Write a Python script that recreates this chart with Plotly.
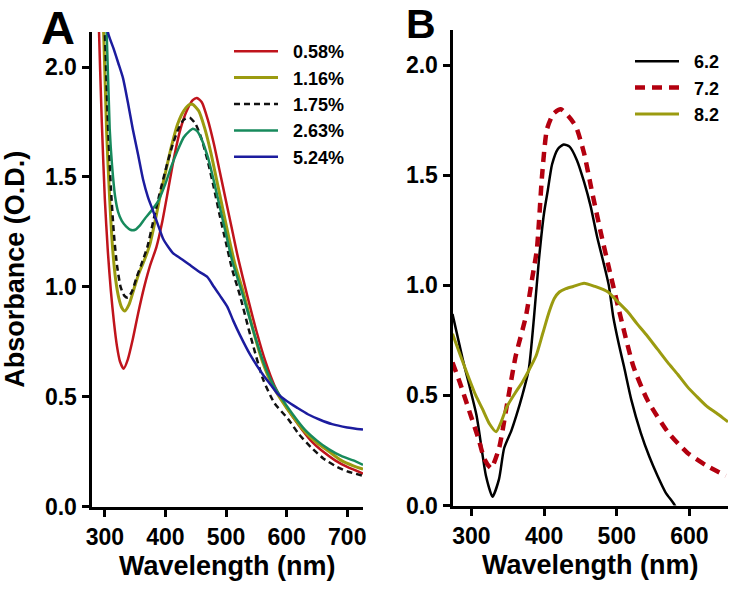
import plotly.graph_objects as go

# ---------------- Panel A data ----------------
wl_058 = [285, 290, 295, 300, 305, 310, 315, 320, 325, 331, 338, 346, 355, 365, 375, 385, 395, 405, 415, 425, 435, 445, 452, 460, 470, 480, 490, 500, 510, 520, 535, 550, 565, 580, 600, 620, 640, 660, 680, 700, 726]
ab_058 = [2.8, 2.2, 1.75, 1.4, 1.16, 0.98, 0.84, 0.73, 0.66, 0.627, 0.67, 0.76, 0.88, 1.0, 1.1, 1.18, 1.3, 1.45, 1.6, 1.72, 1.8, 1.85, 1.86, 1.84, 1.76, 1.65, 1.52, 1.39, 1.26, 1.13, 0.96, 0.8, 0.66, 0.55, 0.45, 0.37, 0.3, 0.25, 0.21, 0.18, 0.15]

wl_116 = [290, 295, 298, 303, 308, 313, 318, 323, 328, 333, 340, 348, 356, 365, 374, 383, 391, 400, 410, 420, 430, 440, 445, 455, 465, 475, 485, 495, 505, 515, 528, 545, 560, 575, 590, 610, 630, 650, 670, 690, 710, 726]
ab_116 = [2.6, 2.3, 2.16, 1.7, 1.4, 1.17, 1.03, 0.95, 0.905, 0.89, 0.92, 0.99, 1.06, 1.12, 1.19, 1.3, 1.41, 1.52, 1.64, 1.74, 1.8, 1.83, 1.83, 1.8, 1.72, 1.61, 1.48, 1.35, 1.22, 1.1, 0.98, 0.8, 0.66, 0.56, 0.49, 0.41, 0.34, 0.29, 0.25, 0.21, 0.185, 0.17]

wl_175 = [292, 300, 305, 310, 315, 320, 326, 332, 338, 345, 352, 360, 370, 380, 390, 400, 410, 420, 430, 440, 450, 460, 470, 480, 490, 500, 510, 523, 540, 561, 580, 602, 620, 640, 660, 680, 700, 726]
ab_175 = [2.6, 2.16, 1.75, 1.45, 1.24, 1.1, 1.0, 0.96, 0.95, 0.98, 1.04, 1.1, 1.18, 1.3, 1.42, 1.53, 1.63, 1.71, 1.76, 1.77, 1.74, 1.67, 1.57, 1.45, 1.32, 1.2, 1.08, 0.96, 0.78, 0.58, 0.47, 0.4, 0.33, 0.27, 0.22, 0.185, 0.16, 0.14]

wl_263 = [295, 303, 308, 312, 317, 322, 328, 335, 342, 350, 358, 366, 375, 388, 400, 410, 420, 430, 440, 445, 452, 460, 470, 480, 490, 500, 510, 528, 545, 560, 575, 590, 610, 630, 650, 670, 690, 710, 726]
ab_263 = [2.6, 2.16, 1.72, 1.55, 1.41, 1.34, 1.3, 1.275, 1.26, 1.26, 1.28, 1.31, 1.34, 1.39, 1.47, 1.55, 1.62, 1.68, 1.71, 1.72, 1.71, 1.67, 1.59, 1.48, 1.36, 1.24, 1.12, 0.96, 0.8, 0.67, 0.57, 0.5, 0.42, 0.35, 0.3, 0.26, 0.23, 0.21, 0.19]

wl_524 = [300, 305, 315, 322, 330, 338, 346, 355, 363, 371, 379, 388, 396, 405, 412, 419, 430, 440, 455, 469, 480, 490, 502, 512, 523, 540, 561, 575, 586, 600, 617, 635, 655, 675, 700, 726]
ab_524 = [2.4, 2.16, 2.08, 2.02, 1.95, 1.84, 1.72, 1.6, 1.49, 1.41, 1.35, 1.28, 1.22, 1.18, 1.155, 1.14, 1.12, 1.1, 1.07, 1.045, 1.0, 0.96, 0.91, 0.845, 0.78, 0.69, 0.6, 0.55, 0.51, 0.48, 0.45, 0.42, 0.395, 0.375, 0.36, 0.35]

labels_A = ["0.58%", "1.16%", "1.75%", "2.63%", "5.24%"]

# ---------------- Panel B data ----------------
wl_62 = [274, 288, 307, 320, 329, 338, 345, 355, 362, 370, 379, 386, 393, 400, 405, 411, 419, 427, 435, 445, 455, 464, 473, 482, 489, 495, 503, 510, 520, 533, 545, 556, 567, 578, 585]
ab_62 = [0.87, 0.665, 0.41, 0.135, 0.04, 0.12, 0.26, 0.34, 0.41, 0.5, 0.62, 0.85, 1.12, 1.33, 1.43, 1.55, 1.62, 1.64, 1.63, 1.57, 1.47, 1.36, 1.22, 1.1, 1.0, 0.86, 0.73, 0.63, 0.48, 0.33, 0.22, 0.135, 0.06, 0.01, -0.03]

wl_72 = [274, 285, 297, 310, 318, 327, 338, 348, 361, 375, 384, 390, 393, 397, 404, 413, 423, 433, 444, 455, 465, 478, 492, 505, 523, 542, 570, 597, 624, 650]
ab_72 = [0.65, 0.55, 0.43, 0.3, 0.21, 0.17, 0.26, 0.44, 0.68, 0.86, 1.04, 1.16, 1.29, 1.49, 1.71, 1.78, 1.8, 1.77, 1.72, 1.6, 1.44, 1.24, 1.04, 0.86, 0.63, 0.48, 0.335, 0.24, 0.18, 0.135]

wl_82 = [274, 285, 297, 306, 315, 325, 334, 341, 349, 360, 370, 380, 389, 398, 407, 414, 421, 430, 440, 455, 470, 488, 500, 515, 528, 542, 556, 570, 584, 597, 610, 624, 637, 649, 653]
ab_82 = [0.78, 0.68, 0.575, 0.5, 0.44, 0.37, 0.335, 0.38, 0.45, 0.51, 0.56, 0.62, 0.68, 0.78, 0.88, 0.94, 0.97, 0.985, 0.995, 1.01, 0.995, 0.97, 0.93, 0.88, 0.825, 0.77, 0.71, 0.65, 0.595, 0.54, 0.495, 0.45, 0.42, 0.39, 0.38]

labels_B = ["6.2", "7.2", "8.2"]

y_ticks = [0.0, 0.5, 1.0, 1.5, 2.0]
x_ticks_A = [300, 400, 500, 600, 700]
x_ticks_B = [300, 400, 500, 600]

FONT = "Liberation Sans"
RED = "#c0141c"
OLIVE = "#9b9b10"
GREEN = "#178a5c"
BLUE = "#1c1c9e"
PAD = "\u00a0\u00a0"

fig = go.Figure()

specA = [
    (wl_058, ab_058, labels_A[0], dict(color=RED, width=2.5)),
    (wl_116, ab_116, labels_A[1], dict(color=OLIVE, width=3)),
    (wl_175, ab_175, labels_A[2], dict(color="#111111", width=2.5, dash="6px,4px")),
    (wl_263, ab_263, labels_A[3], dict(color=GREEN, width=2.5)),
    (wl_524, ab_524, labels_A[4], dict(color=BLUE, width=2.5)),
]
for x, y, name, line in specA:
    fig.add_trace(go.Scatter(x=x, y=y, name=PAD + name, mode="lines",
                             line=dict(shape="spline", smoothing=0.6, **line),
                             xaxis="x", yaxis="y", legend="legend"))

specB = [
    (wl_62, ab_62, labels_B[0], dict(color="#000000", width=2.5)),
    (wl_72, ab_72, labels_B[1], dict(color="#b3000f", width=4.5, dash="10px,7px")),
    (wl_82, ab_82, labels_B[2], dict(color=OLIVE, width=3)),
]
for x, y, name, line in specB:
    fig.add_trace(go.Scatter(x=x, y=y, name=PAD + name, mode="lines",
                             line=dict(shape="spline", smoothing=0.6, **line),
                             xaxis="x2", yaxis="y2", legend="legend2"))

tickfont = dict(family=FONT, size=23, color="#000000", weight="bold")
titlefont = dict(family=FONT, size=27, color="#000000", weight="bold")
legfont = dict(family=FONT, size=18, color="#000000", weight="bold")

common_axis = dict(showline=True, linecolor="#000000", linewidth=3, ticks="outside", ticklen=7,
                   tickwidth=3, tickcolor="#000000", showgrid=False, zeroline=False, tickfont=tickfont,
                   automargin=False)

W, H = 729, 590

fig.update_layout(
    width=W, height=H,
    margin=dict(l=0, r=0, t=0, b=0, autoexpand=False),
    paper_bgcolor="white", plot_bgcolor="white",
    showlegend=True,
    xaxis=dict(domain=[91.5 / W, 363 / W], range=[278, 726], tickvals=x_ticks_A, anchor="y",
               ticklabelstandoff=1,
               title=dict(text="Wavelength (nm)", font=titlefont, standoff=8), **common_axis),
    yaxis=dict(domain=[(H - 506.5) / H, (H - 32) / H], range=[0, 2.16], tickvals=y_ticks, tickformat=".1f",
               anchor="x",
               title=dict(text="Absorbance (O.D.)", font=titlefont, standoff=18), **common_axis),
    xaxis2=dict(domain=[452.5 / W, 728 / W], range=[274, 653], tickvals=x_ticks_B, anchor="y2",
                ticklabelstandoff=1,
                title=dict(text="Wavelength (nm)", font=titlefont, standoff=8), **common_axis),
    yaxis2=dict(domain=[(H - 505.5) / H, (H - 30) / H], range=[0, 2.16], tickvals=y_ticks, tickformat=".1f",
                anchor="x2", **common_axis),
    legend=dict(x=229 / W, y=1 - 33 / H, xanchor="left", yanchor="top", bgcolor="rgba(0,0,0,0)",
                font=legfont, itemwidth=44, tracegroupgap=0),
    legend2=dict(x=630 / W, y=1 - 43 / H, xanchor="left", yanchor="top", bgcolor="rgba(0,0,0,0)",
                 font=legfont, itemwidth=44, tracegroupgap=0),
    annotations=[
        dict(text="A", x=58 / W, y=1.0, xref="paper", yref="paper", xanchor="center", yanchor="top",
             showarrow=False, borderpad=0, font=dict(family=FONT, size=47, color="#000000", weight="bold")),
        dict(text="B", x=421 / W, y=1.0, xref="paper", yref="paper", xanchor="center", yanchor="top",
             showarrow=False, borderpad=0, font=dict(family=FONT, size=41, color="#000000", weight="bold")),
    ],
)

fig.write_html("out.html", config={"displayModeBar": False},
               post_script="document.body.style.margin='0';document.body.style.overflow='hidden';")
